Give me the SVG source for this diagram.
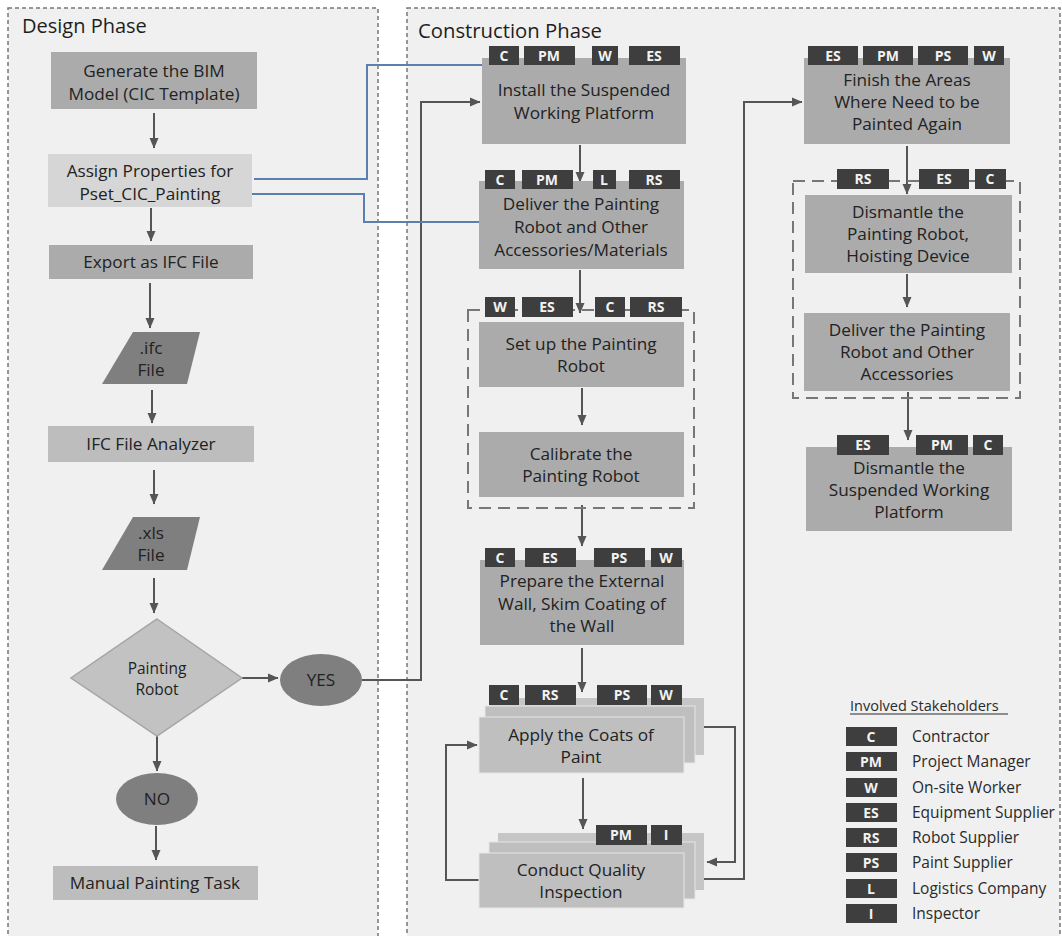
<svg xmlns="http://www.w3.org/2000/svg" width="1062" height="936" viewBox="0 0 1062 936">
<defs>
<style>
.panel{fill:#f0f0f0;stroke:#777;stroke-width:1.5;stroke-dasharray:4 3}
.grp{fill:none;stroke:#777;stroke-width:2;stroke-dasharray:12 7}
.bx{fill:#ababab}
.lt{fill:#d6d6d6}
.md{fill:#bdbdbd}
.dk{fill:#7f7f7f}
.st{fill:#bfbfbf}
.t{font-family:"Open Sans",sans-serif;font-size:17.2px;fill:#222;text-anchor:middle}
.h{font-family:"Open Sans",sans-serif;font-size:20px;fill:#1e1e1e}
.tg{fill:#3e3e3e}
.tt{font-family:"Open Sans",sans-serif;font-size:14px;font-weight:bold;fill:#f2f2f2;text-anchor:middle}
.lg{font-family:"Open Sans",sans-serif;font-size:15.5px;fill:#2a2a2a}
.ln{fill:none;stroke:#555;stroke-width:2}
.bl{fill:none;stroke:#5b7fae;stroke-width:2}
</style>
<marker id="ar" markerUnits="userSpaceOnUse" markerWidth="12" markerHeight="12" refX="10" refY="6" orient="auto">
<path d="M0,1.5 L10.5,6 L0,10.5 z" fill="#555"/>
</marker>
</defs>
<rect width="1062" height="936" fill="#ffffff"/>
<rect class="panel" x="8" y="8" width="370" height="940"/>
<rect class="panel" x="407" y="8" width="653" height="940"/>
<text class="h" x="22" y="33">Design Phase</text>
<text class="h" x="418" y="38" style="font-size:20.3px">Construction Phase</text>

<g id="connectors">
<line class="ln" x1="154" y1="113" x2="154" y2="148" marker-end="url(#ar)"/>
<line class="ln" x1="151" y1="208" x2="151" y2="241" marker-end="url(#ar)"/>
<line class="ln" x1="150" y1="283" x2="150" y2="328" marker-end="url(#ar)"/>
<line class="ln" x1="152" y1="390" x2="152" y2="423" marker-end="url(#ar)"/>
<line class="ln" x1="154" y1="470" x2="154" y2="504" marker-end="url(#ar)"/>
<line class="ln" x1="154" y1="578" x2="154" y2="613" marker-end="url(#ar)"/>
<line class="ln" x1="242" y1="678" x2="278" y2="678" marker-end="url(#ar)"/>
<line class="ln" x1="157" y1="735" x2="157" y2="771" marker-end="url(#ar)"/>
<line class="ln" x1="156" y1="826" x2="156" y2="860" marker-end="url(#ar)"/>
<polyline class="ln" points="362,680 421,680 421,102 480,102" marker-end="url(#ar)"/>
<polyline class="bl" points="254,179 367,179 367,65 482,65"/>
<polyline class="bl" points="252,194 364,194 364,222 479,222"/>
<line class="ln" x1="580" y1="145" x2="580" y2="182" marker-end="url(#ar)"/>
<line class="ln" x1="580" y1="270" x2="580" y2="313" marker-end="url(#ar)"/>
<line class="ln" x1="582" y1="388" x2="582" y2="425" marker-end="url(#ar)"/>
<line class="ln" x1="582" y1="505" x2="582" y2="546" marker-end="url(#ar)"/>
<line class="ln" x1="582" y1="648" x2="582" y2="692" marker-end="url(#ar)"/>
<line class="ln" x1="583" y1="778" x2="583" y2="829" marker-end="url(#ar)"/>
<polyline class="ln" points="479,880 446,880 446,745 477,745" marker-end="url(#ar)"/>
<polyline class="ln" points="704,727 735,727 735,862 707,862" marker-end="url(#ar)"/>
<polyline class="ln" points="684,879 744,879 744,102 802,102" marker-end="url(#ar)"/>
<line class="ln" x1="907" y1="146" x2="907" y2="194" marker-end="url(#ar)"/>
<line class="ln" x1="907" y1="274" x2="907" y2="307" marker-end="url(#ar)"/>
<line class="ln" x1="908" y1="392" x2="908" y2="440" marker-end="url(#ar)"/>
</g>

<g id="n-generate"><rect class="bx" x="51" y="52" width="206" height="57"/><text class="t" x="154" y="77">Generate the BIM</text><text class="t" x="154" y="100">Model (CIC Template)</text></g>
<g id="n-assign"><rect class="lt" x="48" y="154" width="204" height="53"/><text class="t" x="150" y="177">Assign Properties for</text><text class="t" x="150" y="200">Pset_CIC_Painting</text></g>
<g id="n-export"><rect class="bx" x="49" y="245" width="204" height="34"/><text class="t" x="151" y="268">Export as IFC File</text></g>
<g id="n-ifc"><polygon class="dk" points="133,332 200,332 187,384 102,384"/><text class="t" x="151" y="354">.ifc</text><text class="t" x="151" y="376">File</text></g>
<g id="n-analyzer"><rect class="md" x="48" y="426" width="206" height="36"/><text class="t" x="151" y="450">IFC File Analyzer</text></g>
<g id="n-xls"><polygon class="dk" points="133,517 200,517 187,570 102,570"/><text class="t" x="151" y="539">.xls</text><text class="t" x="151" y="561">File</text></g>
<g id="n-decision"><polygon points="157,619 242,678 157,736 71,678" fill="#c2c2c2" stroke="#a5a5a5" stroke-width="1.5"/><text class="t" x="157" y="674" style="font-size:15.5px">Painting</text><text class="t" x="157" y="695" style="font-size:15.5px">Robot</text></g>
<g id="n-yes"><ellipse class="dk" cx="321" cy="680" rx="41" ry="26"/><text class="t" x="321" y="686">YES</text></g>
<g id="n-no"><ellipse class="dk" cx="157" cy="799" rx="41" ry="26"/><text class="t" x="157" y="805">NO</text></g>
<g id="n-manual"><rect class="md" x="53" y="866" width="205" height="34"/><text class="t" x="155" y="889">Manual Painting Task</text></g>

<g id="n-install"><rect class="bx" x="482" y="58" width="204" height="86"/>
<rect class="tg" x="489" y="46" width="30" height="19"/><text class="tt" x="504" y="61">C</text>
<rect class="tg" x="524" y="46" width="51" height="19"/><text class="tt" x="549" y="61">PM</text>
<rect class="tg" x="592" y="46" width="26" height="19"/><text class="tt" x="605" y="61">W</text>
<rect class="tg" x="629" y="46" width="51" height="19"/><text class="tt" x="654" y="61">ES</text>
<text class="t" x="584" y="96">Install the Suspended</text><text class="t" x="584" y="119">Working Platform</text></g>

<g id="n-deliver"><rect class="bx" x="479" y="181" width="205" height="88"/>
<rect class="tg" x="485" y="170" width="30" height="19"/><text class="tt" x="500" y="185">C</text>
<rect class="tg" x="522" y="170" width="51" height="19"/><text class="tt" x="547" y="185">PM</text>
<rect class="tg" x="593" y="170" width="23" height="19"/><text class="tt" x="604" y="185">L</text>
<rect class="tg" x="629" y="170" width="51" height="19"/><text class="tt" x="654" y="185">RS</text>
<text class="t" x="581" y="210">Deliver the Painting</text><text class="t" x="581" y="233">Robot and Other</text><text class="t" x="581" y="256">Accessories/Materials</text></g>

<g id="g-setup"><rect class="grp" x="468" y="310" width="226" height="198"/>
<rect class="tg" x="485" y="297" width="30" height="20"/><text class="tt" x="500" y="312">W</text>
<rect class="tg" x="522" y="297" width="51" height="20"/><text class="tt" x="547" y="312">ES</text>
<rect class="tg" x="595" y="297" width="30" height="20"/><text class="tt" x="610" y="312">C</text>
<rect class="tg" x="630" y="297" width="52" height="20"/><text class="tt" x="656" y="312">RS</text></g>
<g id="n-setup"><rect class="bx" x="479" y="322" width="205" height="65"/><text class="t" x="581" y="350">Set up the Painting</text><text class="t" x="581" y="372">Robot</text></g>
<g id="n-calibrate"><rect class="bx" x="479" y="432" width="205" height="65"/><text class="t" x="581" y="460">Calibrate the</text><text class="t" x="581" y="482">Painting Robot</text></g>

<g id="n-prepare"><rect class="bx" x="480" y="560" width="204" height="85"/>
<rect class="tg" x="485" y="548" width="30" height="19"/><text class="tt" x="500" y="563">C</text>
<rect class="tg" x="525" y="548" width="51" height="19"/><text class="tt" x="550" y="563">ES</text>
<rect class="tg" x="594" y="548" width="51" height="19"/><text class="tt" x="619" y="563">PS</text>
<rect class="tg" x="651" y="548" width="31" height="19"/><text class="tt" x="666" y="563">W</text>
<text class="t" x="582" y="587">Prepare the External</text><text class="t" x="582" y="610">Wall, Skim Coating of</text><text class="t" x="582" y="632">the Wall</text></g>

<g id="n-apply">
<rect class="st" x="490" y="698" width="214" height="57" style="fill:#c6c6c6"/>
<rect class="st" x="485" y="706" width="210" height="57" style="stroke:#e6e6e6;stroke-width:1"/>
<rect class="st" x="479" y="717" width="205" height="56" style="stroke:#e6e6e6;stroke-width:1"/>
<rect class="tg" x="489" y="685" width="30" height="20"/><text class="tt" x="504" y="700">C</text>
<rect class="tg" x="525" y="685" width="51" height="20"/><text class="tt" x="550" y="700">RS</text>
<rect class="tg" x="597" y="685" width="50" height="20"/><text class="tt" x="622" y="700">PS</text>
<rect class="tg" x="651" y="685" width="31" height="20"/><text class="tt" x="666" y="700">W</text>
<text class="t" x="581" y="741">Apply the Coats of</text><text class="t" x="581" y="763">Paint</text></g>

<g id="n-inspect">
<rect class="st" x="498" y="833" width="206" height="57" style="fill:#c6c6c6"/>
<rect class="st" x="489" y="842" width="206" height="57" style="stroke:#e6e6e6;stroke-width:1"/>
<rect class="st" x="479" y="853" width="205" height="55" style="stroke:#e6e6e6;stroke-width:1"/>
<rect class="tg" x="596" y="825" width="51" height="20"/><text class="tt" x="621" y="840">PM</text>
<rect class="tg" x="651" y="825" width="31" height="20"/><text class="tt" x="666" y="840">I</text>
<text class="t" x="581" y="876">Conduct Quality</text><text class="t" x="581" y="898">Inspection</text></g>

<g id="n-finish"><rect class="bx" x="804" y="58" width="206" height="86"/>
<rect class="tg" x="808" y="46" width="50" height="19"/><text class="tt" x="833" y="61">ES</text>
<rect class="tg" x="863" y="46" width="50" height="19"/><text class="tt" x="888" y="61">PM</text>
<rect class="tg" x="918" y="46" width="50" height="19"/><text class="tt" x="943" y="61">PS</text>
<rect class="tg" x="974" y="46" width="30" height="19"/><text class="tt" x="989" y="61">W</text>
<text class="t" x="907" y="86">Finish the Areas</text><text class="t" x="907" y="108">Where Need to be</text><text class="t" x="907" y="130">Painted Again</text></g>

<g id="g-dismantle"><rect class="grp" x="793" y="181" width="227" height="217"/>
<rect class="tg" x="837" y="169" width="52" height="20"/><text class="tt" x="863" y="184">RS</text>
<rect class="tg" x="919" y="169" width="50" height="20"/><text class="tt" x="944" y="184">ES</text>
<rect class="tg" x="975" y="169" width="31" height="20"/><text class="tt" x="990" y="184">C</text></g>
<g id="n-dismantle-robot"><rect class="bx" x="805" y="195" width="207" height="78"/><text class="t" x="908" y="218">Dismantle the</text><text class="t" x="908" y="240">Painting Robot,</text><text class="t" x="908" y="262">Hoisting Device</text></g>
<g id="n-deliver-acc"><rect class="bx" x="804" y="313" width="206" height="78"/><text class="t" x="907" y="336">Deliver the Painting</text><text class="t" x="907" y="358">Robot and Other</text><text class="t" x="907" y="380">Accessories</text></g>

<g id="n-dismantle-platform"><rect class="bx" x="806" y="447" width="206" height="84"/>
<rect class="tg" x="837" y="435" width="52" height="20"/><text class="tt" x="863" y="450">ES</text>
<rect class="tg" x="916" y="435" width="52" height="20"/><text class="tt" x="942" y="450">PM</text>
<rect class="tg" x="973" y="435" width="30" height="20"/><text class="tt" x="988" y="450">C</text>
<text class="t" x="909" y="474">Dismantle the</text><text class="t" x="909" y="496">Suspended Working</text><text class="t" x="909" y="518">Platform</text></g>

<g id="legend">
<text class="lg" x="850" y="711" style="font-size:14.5px">Involved Stakeholders</text>
<line x1="850" y1="714" x2="1008" y2="714" stroke="#2a2a2a" stroke-width="1"/>
<rect class="tg" x="846" y="727" width="51" height="19"/><text class="tt" x="871" y="742">C</text><text class="lg" x="912" y="742">Contractor</text>
<rect class="tg" x="846" y="752" width="51" height="19"/><text class="tt" x="871" y="767">PM</text><text class="lg" x="912" y="767">Project Manager</text>
<rect class="tg" x="846" y="778" width="51" height="19"/><text class="tt" x="871" y="793">W</text><text class="lg" x="912" y="793">On-site Worker</text>
<rect class="tg" x="846" y="803" width="51" height="19"/><text class="tt" x="871" y="818">ES</text><text class="lg" x="912" y="818">Equipment Supplier</text>
<rect class="tg" x="846" y="828" width="51" height="19"/><text class="tt" x="871" y="843">RS</text><text class="lg" x="912" y="843">Robot Supplier</text>
<rect class="tg" x="846" y="853" width="51" height="19"/><text class="tt" x="871" y="868">PS</text><text class="lg" x="912" y="868">Paint Supplier</text>
<rect class="tg" x="846" y="879" width="51" height="19"/><text class="tt" x="871" y="894">L</text><text class="lg" x="912" y="894">Logistics Company</text>
<rect class="tg" x="846" y="904" width="51" height="19"/><text class="tt" x="871" y="919">I</text><text class="lg" x="912" y="919">Inspector</text>
</g>
</svg>
